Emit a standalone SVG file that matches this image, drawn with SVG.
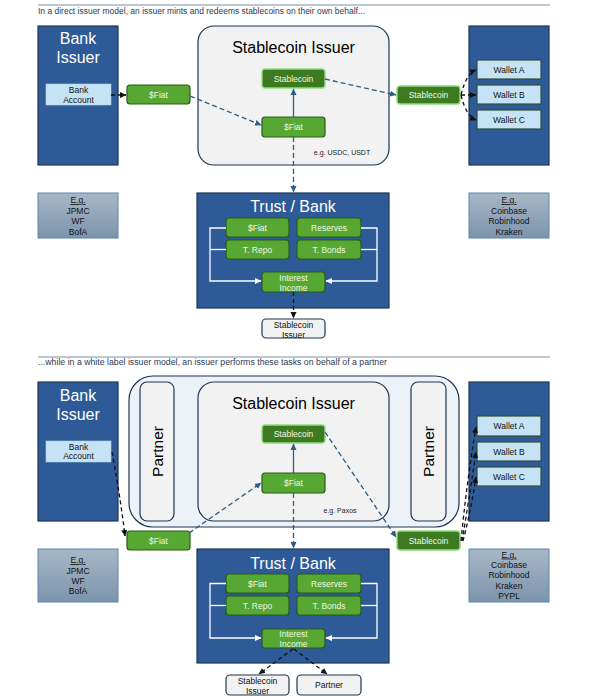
<svg xmlns="http://www.w3.org/2000/svg" width="592" height="697" viewBox="0 0 592 697">
<defs>
<style>
.hdr{font-family:"Liberation Sans",Arial,sans-serif;font-size:8.5px;fill:#2b3a55}
.rule{stroke:#7d8fa8;stroke-width:1}
.blue{fill:#2e5a97;stroke:#1e3658;stroke-width:1.2}
.issuer{fill:#f2f2f2;stroke:#1f3550;stroke-width:1.2}
.outer{fill:#edf2f9;stroke:#1f3550;stroke-width:1.2}
.g{fill:#56a832;stroke:#2a5a1a;stroke-width:1.2}
.dg{fill:#3d7a22;stroke:#8fe07e;stroke-width:1.4}
.acct{fill:#c6e3f5;stroke:#b3d3ea;stroke-width:0.6}
.wal{fill:#c6e3f5;stroke:#2f4f3a;stroke-width:1.2}
.eg{fill:url(#egGrad);stroke:#5a86ad;stroke-width:1}
.small{fill:#f2f2f2;stroke:#1f3550;stroke-width:1.2}
text{font-family:"Liberation Sans",Arial,sans-serif;text-anchor:middle}
.big{font-size:16px;fill:#ffffff}
.title{font-size:16px;fill:#000000}
.gt{font-size:8.5px;fill:#eef7e6}
.bt{font-size:8.5px;fill:#111111}
.note{font-size:7px;fill:#222222}
.pt{font-size:15.5px;fill:#000000}
.u{text-decoration:underline}
.cb{fill:none;stroke:#2c5d86;stroke-width:1.3;stroke-dasharray:5,3}
.cs{fill:none;stroke:#2c5d86;stroke-width:1.3}
.ck{fill:none;stroke:#111111;stroke-width:1.3;stroke-dasharray:4,3}
.cw{fill:none;stroke:#ffffff;stroke-width:1.3}
</style>
<linearGradient id="egGrad" x1="0" y1="0" x2="0" y2="1">
<stop offset="0" stop-color="#a8b7c7"/>
<stop offset="1" stop-color="#7c94ac"/>
</linearGradient>
<marker id="aB" markerUnits="userSpaceOnUse" markerWidth="7" markerHeight="7" refX="6" refY="3.5" orient="auto"><path d="M0,0.5 L6.5,3.5 L0,6.5 z" fill="#2c5d86"/></marker>
<marker id="aK" markerUnits="userSpaceOnUse" markerWidth="7" markerHeight="7" refX="6" refY="3.5" orient="auto"><path d="M0,0.5 L6.5,3.5 L0,6.5 z" fill="#111111"/></marker>
<marker id="aW" markerUnits="userSpaceOnUse" markerWidth="7" markerHeight="7" refX="6" refY="3.5" orient="auto"><path d="M0,0.5 L6.5,3.5 L0,6.5 z" fill="#ffffff"/></marker>
</defs>

<!-- ===== TOP: direct issuer model ===== -->
<g id="header-top">
<line class="rule" x1="38" y1="5" x2="550" y2="5"/>
<text class="hdr" x="38" y="14" style="text-anchor:start" textLength="327" lengthAdjust="spacingAndGlyphs">In a direct issuer model, an issuer mints and redeems stablecoins on their own behalf...</text>
</g>

<g id="t-bank-issuer">
<rect class="blue" x="38" y="26" width="80" height="139"/>
<text class="big" x="78" y="44">Bank</text>
<text class="big" x="78" y="63">Issuer</text>
</g>
<g id="t-bank-account">
<rect class="acct" x="46" y="84" width="65" height="21"/>
<text class="bt" x="78.5" y="93">Bank</text>
<text class="bt" x="78.5" y="102.5">Account</text>
</g>
<g id="t-fiat-out">
<rect class="g" x="127" y="85" width="63" height="19" rx="3"/>
<text class="gt" x="158.5" y="97.5">$Fiat</text>
</g>
<g id="t-stablecoin-issuer">
<rect class="issuer" x="198" y="26" width="191" height="139" rx="16"/>
<text class="title" x="293.5" y="53">Stablecoin Issuer</text>
<text class="note" x="342" y="155">e.g. USDC, USDT</text>
</g>
<g id="t-issuer-stablecoin">
<rect class="dg" x="262" y="69" width="63" height="19" rx="3"/>
<text class="gt" x="293.5" y="81.5">Stablecoin</text>
</g>
<g id="t-issuer-fiat">
<rect class="g" x="262" y="117" width="63" height="20" rx="3"/>
<text class="gt" x="293.5" y="130">$Fiat</text>
</g>
<g id="t-stablecoin-out">
<rect class="dg" x="397" y="86" width="63" height="18" rx="3"/>
<text class="gt" x="428.5" y="98">Stablecoin</text>
</g>
<g id="t-wallets">
<rect class="blue" x="469" y="26" width="80" height="139"/>
</g>
<g id="t-wallet-a"><rect class="wal" x="477" y="60" width="64" height="19"/><text class="bt" x="509" y="72.5">Wallet A</text></g>
<g id="t-wallet-b"><rect class="wal" x="477" y="85" width="64" height="19"/><text class="bt" x="509" y="97.5">Wallet B</text></g>
<g id="t-wallet-c"><rect class="wal" x="477" y="110" width="64" height="19"/><text class="bt" x="509" y="122.5">Wallet C</text></g>

<g id="t-eg-banks">
<rect class="eg" x="38" y="193" width="80" height="45"/>
<text class="bt u" x="78" y="203">E.g.</text>
<text class="bt" x="78" y="214">JPMC</text>
<text class="bt" x="78" y="224">WF</text>
<text class="bt" x="78" y="235">BofA</text>
</g>
<g id="t-eg-wallets">
<rect class="eg" x="469" y="193" width="80" height="45"/>
<text class="bt u" x="509" y="203">E.g.</text>
<text class="bt" x="509" y="214">Coinbase</text>
<text class="bt" x="509" y="224">Robinhood</text>
<text class="bt" x="509" y="235">Kraken</text>
</g>

<g id="t-trust-bank">
<rect class="blue" x="197" y="193" width="192" height="115"/>
<text class="big" x="293" y="212">Trust / Bank</text>
</g>
<g id="t-tb-fiat"><rect class="g" x="226" y="218" width="63" height="19" rx="3"/><text class="gt" x="257.5" y="231">$Fiat</text></g>
<g id="t-tb-reserves"><rect class="g" x="297" y="218" width="64" height="19" rx="3"/><text class="gt" x="329" y="231">Reserves</text></g>
<g id="t-tb-repo"><rect class="g" x="226" y="240" width="63" height="19" rx="3"/><text class="gt" x="257.5" y="253">T. Repo</text></g>
<g id="t-tb-bonds"><rect class="g" x="297" y="240" width="64" height="19" rx="3"/><text class="gt" x="329" y="253">T. Bonds</text></g>
<g id="t-tb-interest"><rect class="g" x="262" y="272" width="63" height="20" rx="3"/><text class="gt" x="293.5" y="280.5">Interest</text><text class="gt" x="293.5" y="290.5">Income</text></g>
<g id="t-out-issuer"><rect class="small" x="262" y="319" width="63" height="19" rx="4"/><text class="bt" x="293.5" y="328">Stablecoin</text><text class="bt" x="293.5" y="337.5">Issuer</text></g>

<g id="t-connectors">
<path class="ck" d="M111,95 H126" marker-end="url(#aK)"/>
<path class="cb" d="M190,96 L261,125" marker-end="url(#aB)"/>
<path class="cs" d="M293.5,117 V89" marker-end="url(#aB)"/>
<path class="cb" d="M325,79 L396,95" marker-end="url(#aB)"/>
<path class="cb" d="M293.5,137 V192" marker-end="url(#aB)"/>
<path class="ck" d="M461,95 Q466,74 476,70" marker-end="url(#aK)"/>
<path class="ck" d="M461,95 H476" marker-end="url(#aK)"/>
<path class="ck" d="M461,95 Q466,116 476,120" marker-end="url(#aK)"/>
<path class="cw" d="M226,228 H210 V281 H261" marker-end="url(#aW)"/>
<path class="cw" d="M226,249.5 H210"/>
<path class="cw" d="M361,228 H377 V281 H326" marker-end="url(#aW)"/>
<path class="cw" d="M361,249.5 H377"/>
<path class="ck" d="M293.5,292 V318" marker-end="url(#aK)"/>
</g>

<!-- ===== BOTTOM: white label issuer model ===== -->
<g id="header-bottom">
<line class="rule" x1="38" y1="357" x2="550" y2="357"/>
<text class="hdr" x="38" y="365" style="text-anchor:start" textLength="349" lengthAdjust="spacingAndGlyphs">...while in a white label issuer model, an issuer performs these tasks on behalf of a partner</text>
</g>

<g id="b-bank-issuer">
<rect class="blue" x="38" y="382" width="80" height="139"/>
<text class="big" x="78" y="401">Bank</text>
<text class="big" x="78" y="420">Issuer</text>
</g>
<g id="b-bank-account">
<rect class="acct" x="46" y="441" width="65" height="21"/>
<text class="bt" x="78.5" y="449.5">Bank</text>
<text class="bt" x="78.5" y="459">Account</text>
</g>

<g id="b-partner-container">
<rect class="outer" x="129" y="376" width="330" height="151" rx="24"/>
</g>
<g id="b-partner-left">
<rect class="issuer" x="140" y="382" width="34" height="139" rx="7"/>
<text class="pt" transform="translate(162.5,451.5) rotate(-90)" x="0" y="0">Partner</text>
</g>
<g id="b-partner-right">
<rect class="issuer" x="411" y="382" width="35" height="139" rx="7"/>
<text class="pt" transform="translate(434,451.5) rotate(-90)" x="0" y="0">Partner</text>
</g>
<g id="b-stablecoin-issuer">
<rect class="issuer" x="198" y="382" width="191" height="139" rx="16"/>
<text class="title" x="293.5" y="409">Stablecoin Issuer</text>
<text class="note" x="340" y="513">e.g. Paxos</text>
</g>
<g id="b-issuer-stablecoin">
<rect class="dg" x="262" y="425" width="63" height="18" rx="3"/>
<text class="gt" x="293.5" y="437">Stablecoin</text>
</g>
<g id="b-issuer-fiat">
<rect class="g" x="262" y="473" width="63" height="20" rx="3"/>
<text class="gt" x="293.5" y="486">$Fiat</text>
</g>
<g id="b-fiat-out">
<rect class="g" x="127" y="531" width="63" height="19" rx="3"/>
<text class="gt" x="158.5" y="544">$Fiat</text>
</g>
<g id="b-stablecoin-out">
<rect class="dg" x="397" y="531" width="63" height="19" rx="3"/>
<text class="gt" x="428.5" y="544">Stablecoin</text>
</g>
<g id="b-wallets">
<rect class="blue" x="469" y="382" width="80" height="139"/>
</g>
<g id="b-wallet-a"><rect class="wal" x="477" y="416" width="64" height="20"/><text class="bt" x="509" y="429">Wallet A</text></g>
<g id="b-wallet-b"><rect class="wal" x="477" y="442" width="64" height="19"/><text class="bt" x="509" y="454.5">Wallet B</text></g>
<g id="b-wallet-c"><rect class="wal" x="477" y="467" width="64" height="19"/><text class="bt" x="509" y="479.5">Wallet C</text></g>

<g id="b-eg-banks">
<rect class="eg" x="38" y="549" width="80" height="53"/>
<text class="bt u" x="78" y="563">E.g.</text>
<text class="bt" x="78" y="573.5">JPMC</text>
<text class="bt" x="78" y="583.5">WF</text>
<text class="bt" x="78" y="594">BofA</text>
</g>
<g id="b-eg-wallets">
<rect class="eg" x="469" y="549" width="80" height="53"/>
<text class="bt u" x="509" y="557.5">E.g.</text>
<text class="bt" x="509" y="568">Coinbase</text>
<text class="bt" x="509" y="578">Robinhood</text>
<text class="bt" x="509" y="589">Kraken</text>
<text class="bt" x="509" y="599">PYPL</text>
</g>

<g id="b-trust-bank">
<rect class="blue" x="197" y="549" width="192" height="114"/>
<text class="big" x="293" y="569">Trust / Bank</text>
</g>
<g id="b-tb-fiat"><rect class="g" x="226" y="574" width="63" height="19" rx="3"/><text class="gt" x="257.5" y="587">$Fiat</text></g>
<g id="b-tb-reserves"><rect class="g" x="297" y="574" width="64" height="19" rx="3"/><text class="gt" x="329" y="587">Reserves</text></g>
<g id="b-tb-repo"><rect class="g" x="226" y="596" width="63" height="19" rx="3"/><text class="gt" x="257.5" y="609">T. Repo</text></g>
<g id="b-tb-bonds"><rect class="g" x="297" y="596" width="64" height="19" rx="3"/><text class="gt" x="329" y="609">T. Bonds</text></g>
<g id="b-tb-interest"><rect class="g" x="262" y="629" width="63" height="19" rx="3"/><text class="gt" x="293.5" y="636.5">Interest</text><text class="gt" x="293.5" y="646.5">Income</text></g>
<g id="b-out-issuer"><rect class="small" x="226" y="675" width="63" height="20" rx="4"/><text class="bt" x="257.5" y="684">Stablecoin</text><text class="bt" x="257.5" y="694">Issuer</text></g>
<g id="b-out-partner"><rect class="small" x="297" y="675" width="64" height="20" rx="4"/><text class="bt" x="329" y="688">Partner</text></g>

<g id="b-connectors">
<path class="ck" d="M112,452 Q120,495 125,536" marker-end="url(#aK)"/>
<path class="cb" d="M189,533 L261,483" marker-end="url(#aB)"/>
<path class="cs" d="M293.5,473 V444" marker-end="url(#aB)"/>
<path class="cb" d="M325,432 L396,537" marker-end="url(#aB)"/>
<path class="cb" d="M293.5,493 V548" marker-end="url(#aB)"/>
<path class="ck" d="M461,541 Q467,480 476,427" marker-end="url(#aK)"/>
<path class="ck" d="M462,541 Q469,500 476,452" marker-end="url(#aK)"/>
<path class="ck" d="M463,541 Q471,510 476,477" marker-end="url(#aK)"/>
<path class="cw" d="M226,583.5 H210 V638 H261" marker-end="url(#aW)"/>
<path class="cw" d="M226,605.5 H210"/>
<path class="cw" d="M361,583.5 H377 V638 H326" marker-end="url(#aW)"/>
<path class="cw" d="M361,605.5 H377"/>
<path class="ck" d="M293,649 L259,674" marker-end="url(#aK)"/>
<path class="ck" d="M294,649 L327,674" marker-end="url(#aK)"/>
</g>
</svg>
